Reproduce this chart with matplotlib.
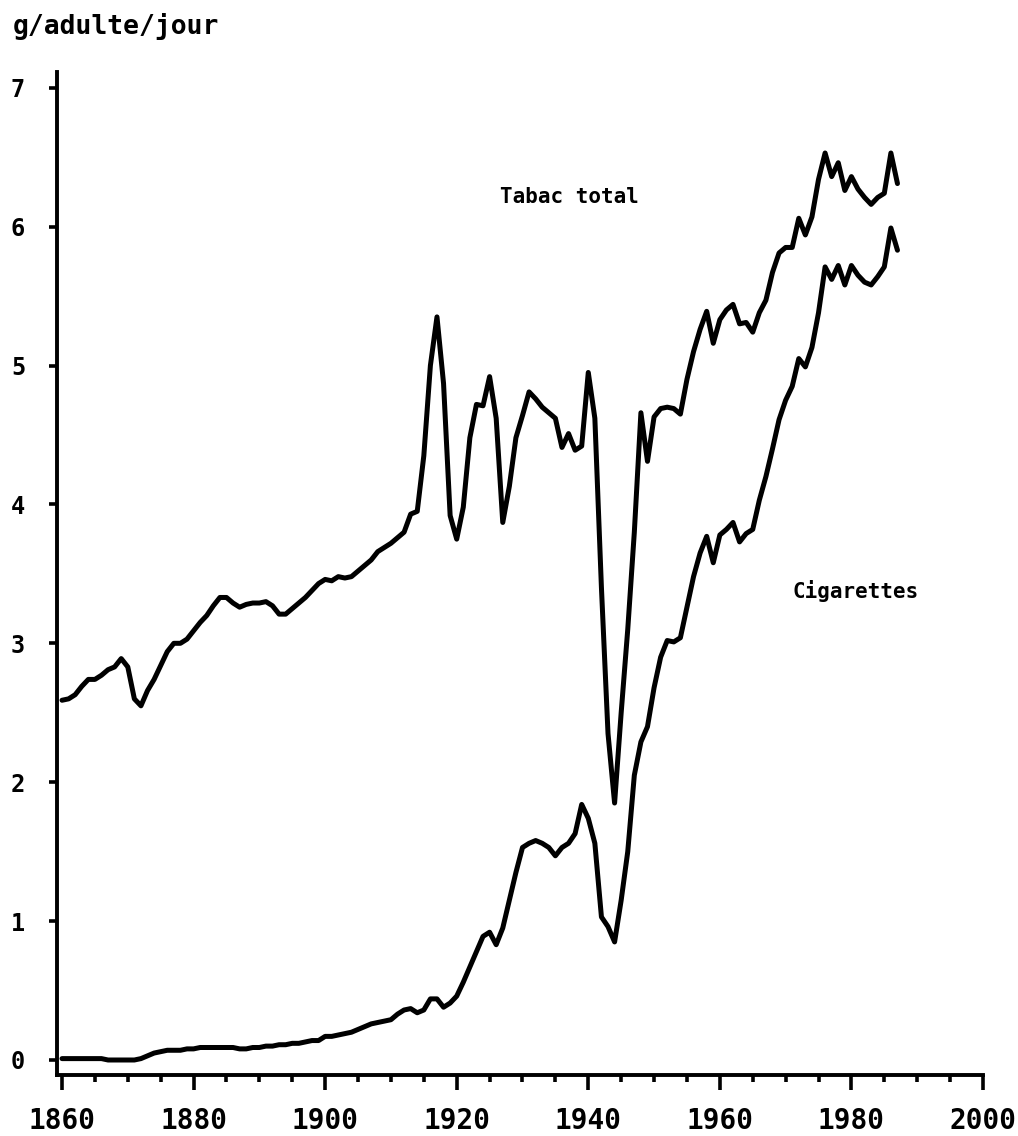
import matplotlib.pyplot as plt
from matplotlib.ticker import MultipleLocator

# Annual series, 1860-1987 (g / adult / day)
years = list(range(1860, 1988))

tabac_total = [
    2.59, 2.60, 2.63, 2.69, 2.74, 2.74, 2.77, 2.81, 2.83, 2.89,  # 1860s
    2.83, 2.60, 2.55, 2.66, 2.74, 2.84, 2.94, 3.00, 3.00, 3.03,  # 1870s
    3.09, 3.15, 3.20, 3.27, 3.33, 3.33, 3.29, 3.26, 3.28, 3.29,  # 1880s
    3.29, 3.30, 3.27, 3.21, 3.21, 3.25, 3.29, 3.33, 3.38, 3.43,  # 1890s
    3.46, 3.45, 3.48, 3.47, 3.48, 3.52, 3.56, 3.60, 3.66, 3.69,  # 1900s
    3.72, 3.76, 3.80, 3.93, 3.95, 4.35, 5.00, 5.35, 4.87, 3.92,  # 1910s
    3.75, 3.98, 4.48, 4.72, 4.71, 4.92, 4.62, 3.87, 4.13, 4.48,  # 1920s
    4.64, 4.81, 4.76, 4.70, 4.66, 4.62, 4.41, 4.51, 4.39, 4.42,  # 1930s
    4.95, 4.62, 3.40, 2.35, 1.85, 2.50, 3.10, 3.80, 4.66, 4.31,  # 1940s
    4.63, 4.69, 4.70, 4.69, 4.65, 4.90, 5.10, 5.26, 5.39, 5.16,  # 1950s
    5.33, 5.40, 5.44, 5.30, 5.31, 5.24, 5.38, 5.47, 5.67, 5.81,  # 1960s
    5.85, 5.85, 6.06, 5.94, 6.07, 6.34, 6.53, 6.36, 6.46, 6.26,  # 1970s
    6.36, 6.27, 6.21, 6.16, 6.21, 6.24, 6.53, 6.31,              # 1980-87
]

cigarettes = [
    0.01, 0.01, 0.01, 0.01, 0.01, 0.01, 0.01, 0.00, 0.00, 0.00,  # 1860s
    0.00, 0.00, 0.01, 0.03, 0.05, 0.06, 0.07, 0.07, 0.07, 0.08,  # 1870s
    0.08, 0.09, 0.09, 0.09, 0.09, 0.09, 0.09, 0.08, 0.08, 0.09,  # 1880s
    0.09, 0.10, 0.10, 0.11, 0.11, 0.12, 0.12, 0.13, 0.14, 0.14,  # 1890s
    0.17, 0.17, 0.18, 0.19, 0.20, 0.22, 0.24, 0.26, 0.27, 0.28,  # 1900s
    0.29, 0.33, 0.36, 0.37, 0.34, 0.36, 0.44, 0.44, 0.38, 0.41,  # 1910s
    0.46, 0.56, 0.67, 0.78, 0.89, 0.92, 0.83, 0.95, 1.15, 1.35,  # 1920s
    1.53, 1.56, 1.58, 1.56, 1.53, 1.47, 1.53, 1.56, 1.63, 1.84,  # 1930s
    1.74, 1.56, 1.03, 0.96, 0.85, 1.15, 1.50, 2.05, 2.29, 2.40,  # 1940s
    2.68, 2.90, 3.02, 3.01, 3.04, 3.26, 3.48, 3.65, 3.77, 3.58,  # 1950s
    3.78, 3.82, 3.87, 3.73, 3.79, 3.82, 4.03, 4.20, 4.40, 4.61,  # 1960s
    4.75, 4.85, 5.05, 4.99, 5.13, 5.38, 5.71, 5.62, 5.72, 5.58,  # 1970s
    5.72, 5.65, 5.60, 5.58, 5.64, 5.71, 5.99, 5.83,              # 1980-87
]

x_major_ticks = [1860, 1880, 1900, 1920, 1940, 1960, 1980, 2000]
y_ticks = [0, 1, 2, 3, 4, 5, 6, 7]


def draw_chart(output_path: str = "out.png") -> None:
    mono = "DejaVu Sans Mono"

    fig = plt.figure(figsize=(10.18, 11.36), dpi=100)
    ax = fig.add_axes([0.056, 0.0537, 0.9096, 0.8829])

    line_kw = dict(color="black", linewidth=3.6,
                   solid_joinstyle="round", solid_capstyle="round")
    ax.plot(years, tabac_total, **line_kw)
    ax.plot(years, cigarettes, **line_kw)

    ax.set_xlim(1859.24, 2000)
    ax.set_ylim(-0.108, 7.113)

    # Only left and bottom axis lines, thick like a plotter drawing
    for side in ("top", "right"):
        ax.spines[side].set_visible(False)
    for side in ("left", "bottom"):
        ax.spines[side].set_linewidth(2.8)

    ax.set_xticks(x_major_ticks)
    ax.xaxis.set_minor_locator(MultipleLocator(5))
    ax.set_yticks(y_ticks)

    ax.tick_params(axis="x", which="major", direction="out", length=11,
                   width=2.6, pad=12)
    ax.tick_params(axis="x", which="minor", direction="out", length=5,
                   width=2.6)
    ax.tick_params(axis="y", which="major", direction="out", length=6,
                   width=2.6, pad=17)

    for lab in ax.get_xticklabels():
        lab.set_fontfamily(mono)
        lab.set_fontweight("bold")
        lab.set_fontsize(20)
    for lab in ax.get_yticklabels():
        lab.set_fontfamily(mono)
        lab.set_fontweight("bold")
        lab.set_fontsize(17)

    # Unit label above the y axis
    fig.text(13 / 1018, 1 - 27 / 1136, "g/adulte/jour", family=mono,
             fontweight="bold", fontsize=19, ha="left", va="center")

    # Series labels
    ax.text(1937.2, 6.21, "Tabac total", family=mono, fontweight="bold",
            fontsize=15, ha="center", va="center")
    ax.text(1980.7, 3.38, "Cigarettes", family=mono, fontweight="bold",
            fontsize=15, ha="center", va="center")

    fig.savefig(output_path, dpi=100)
    plt.close(fig)


def main() -> None:
    draw_chart("out.png")


if __name__ == "__main__":
    main()
